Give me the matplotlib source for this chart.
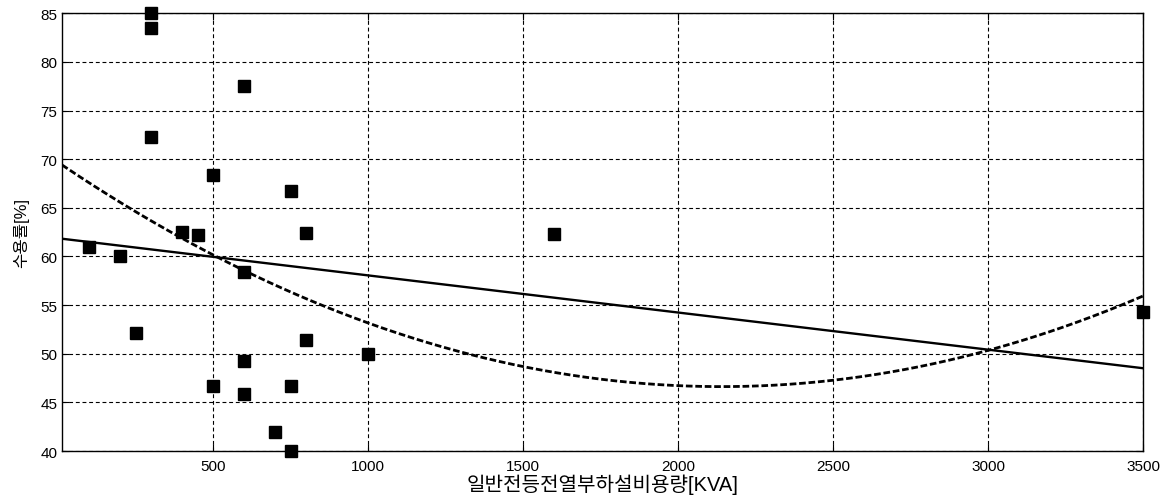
import numpy as np
import matplotlib.pyplot as plt

plt.rcParams['font.family'] = ['Liberation Sans', 'Noto Sans CJK KR', 'DejaVu Sans']

# 설비용량 [KVA] vs 수용률 [%]
capacity_kva = [300, 300, 600, 300, 500, 750, 400, 450, 800, 100, 200, 600,
                250, 800, 600, 1000, 500, 750, 600, 700, 750, 1600, 3500]
demand_pct = [85.0, 83.5, 77.5, 72.3, 68.4, 66.7, 62.5, 62.2, 62.4, 61.0, 60.0, 58.4,
              52.1, 51.4, 49.3, 50.0, 46.7, 46.7, 45.9, 42.0, 40.0, 62.3, 54.3]
x_ticks = [500, 1000, 1500, 2000, 2500, 3000, 3500]
y_ticks = [40, 45, 50, 55, 60, 65, 70, 75, 80, 85]

x = np.array(capacity_kva, dtype=float)
y = np.array(demand_pct)

# regression curves (linear and quadratic) from the measured points
lin = np.polyfit(x, y, 1)
quad = np.polyfit(x, y, 2)
xs = np.linspace(12, 3500, 300)

fig = plt.figure(figsize=(11.73, 5.02), dpi=100)
ax = fig.add_axes([0.0529, 0.0996, 0.9215, 0.8719])

ax.plot(x, y, 's', color='black', markersize=9, zorder=3, clip_on=False)
ax.plot(xs, np.polyval(lin, xs), '-', color='black', linewidth=1.7)
ax.plot(xs, np.polyval(quad, xs), color='black', linewidth=2.0,
        linestyle=(0, (2.4, 1.0)))

ax.set_xlim(12, 3500)
ax.set_ylim(40, 85)
ax.set_xticks(x_ticks)
ax.set_yticks(y_ticks)
ax.grid(True, color='black', linestyle=(0, (3.5, 2.5)), linewidth=0.8)
ax.tick_params(direction='in', top=True, right=True, length=5, labelsize=11)
ax.tick_params(axis='x', pad=6)
for s in ax.spines.values():
    s.set_linewidth(1.0)
ax.set_xlabel('일반전등전열부하설비용량[KVA]', fontsize=14.5, labelpad=0)
ax.set_ylabel('수용률[%]', fontsize=12, labelpad=8)

plt.savefig('out.png', dpi=100)
